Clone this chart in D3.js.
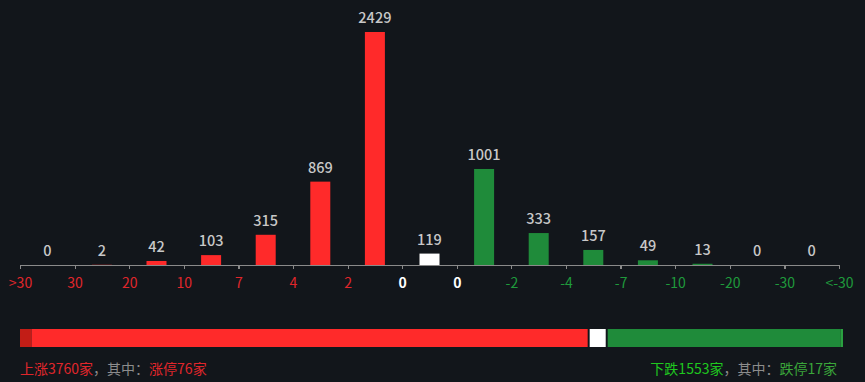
<!DOCTYPE html>
<html lang="zh">
<head>
<meta charset="UTF-8" />
<script src="https://d3js.org/d3.v7.min.js"></script>
<style>
    html, body { margin: 0; padding: 0; background: #12161b; }
    svg { display: block; font-family: "Noto Sans CJK SC", "Noto Sans", sans-serif; }
    .axis path, .axis line { stroke: #8a8a8a; stroke-width: 1.2; shape-rendering: crispEdges; }
</style>
</head>
<body>
<script>
    var counts = [0, 2, 42, 103, 315, 869, 2429, 119, 1001, 333, 157, 49, 13, 0, 0];
    var barKind = ["up", "up", "up", "up", "up", "up", "up", "flat", "down", "down", "down", "down", "down", "down", "down"];
    var tickLabels = [">30", "30", "20", "10", "7", "4", "2", "0", "0", "-2", "-4", "-7", "-10", "-20", "-30", "<-30"];
    var upTotal = 3760, limitUp = 76, flatTotal = 119, downTotal = 1553, limitDown = 17;

    var w = 865, h = 382;
    var padding = { left: 20, right: 26, top: 32, axisY: 265 };
    var colors = { up: "#ff2a2a", flat: "#ffffff", down: "#1f8b3a", limitUp: "#c21d16", limitDown: "#2aa040" };
    var tickColor = function (i) { return i < 7 ? "#e0262b" : (i < 9 ? "#ffffff" : "#1f9a3c"); };

    var svg = d3.select("body").append("svg").attr("width", w).attr("height", h);

    var xScale = d3.scaleLinear().domain([0, counts.length]).range([padding.left, w - padding.right]);
    var yScale = d3.scaleLinear().domain([0, d3.max(counts)]).range([padding.axisY, padding.top]);
    var barW = 20;

    svg.selectAll("rect.bar").data(counts).enter().append("rect")
        .attr("class", "bar")
        .attr("x", function (d, i) { return xScale(i + 0.5) - barW / 2; })
        .attr("y", function (d) { return yScale(d); })
        .attr("width", barW)
        .attr("height", function (d) { return padding.axisY - yScale(d); })
        .attr("fill", function (d, i) { return colors[barKind[i]]; });

    svg.selectAll("text.val").data(counts).enter().append("text")
        .attr("class", "val")
        .attr("x", function (d, i) { return xScale(i + 0.5); })
        .attr("y", function (d) { return yScale(d) - 9; })
        .attr("text-anchor", "middle")
        .attr("fill", "#c8c8c8")
        .attr("font-size", 14.5)
        .attr("font-weight", 500)
        .text(function (d) { return d; });

    var axis = d3.axisBottom(xScale)
        .tickValues(d3.range(tickLabels.length))
        .tickSize(4)
        .tickFormat(function (d) { return tickLabels[d]; });

    var gAxis = svg.append("g").attr("class", "axis")
        .attr("transform", "translate(0," + padding.axisY + ")")
        .call(axis);
    gAxis.select(".domain").attr("d", "M" + xScale(0) + ",0.5H" + xScale(counts.length));
    gAxis.selectAll(".tick text")
        .attr("y", 13)
        .attr("font-size", 14)
        .attr("font-family", "'Noto Sans CJK SC', sans-serif")
        .attr("fill", function (d) { return tickColor(d); })
        .attr("font-weight", function (d) { return (d === 7 || d === 8) ? "bold" : "normal"; });

    // composition bar
    var total = upTotal + flatTotal + downTotal;
    var cScale = d3.scaleLinear().domain([0, total]).range([20, 843]);
    var gap = 2, barY = 329, barH = 18;
    var segs = [
        { from: 0, to: limitUp, c: colors.limitUp, g1: 0 },
        { from: limitUp, to: upTotal, c: colors.up, g1: gap },
        { from: upTotal, to: upTotal + flatTotal, c: colors.flat, g1: gap },
        { from: upTotal + flatTotal, to: total - limitDown, c: colors.down, g1: 0 },
        { from: total - limitDown, to: total, c: colors.limitDown, g1: 0 }
    ];
    svg.selectAll("rect.seg").data(segs).enter().append("rect")
        .attr("class", "seg")
        .attr("x", function (d) { return cScale(d.from); })
        .attr("y", barY)
        .attr("width", function (d) { return cScale(d.to) - cScale(d.from) - d.g1; })
        .attr("height", barH)
        .attr("fill", function (d) { return d.c; });

    var left = svg.append("text").attr("x", 20).attr("y", 374).attr("font-size", 14);
    left.append("tspan").attr("fill", "#e0262b").text("上涨" + upTotal + "家");
    left.append("tspan").attr("fill", "#8c8c8c").text("，其中：");
    left.append("tspan").attr("fill", "#e0262b").text("涨停" + limitUp + "家");

    var right = svg.append("text").attr("x", 837).attr("y", 374).attr("font-size", 14).attr("text-anchor", "end");
    right.append("tspan").attr("fill", "#1fc81f").text("下跌" + downTotal + "家");
    right.append("tspan").attr("fill", "#8c8c8c").text("，其中：");
    right.append("tspan").attr("fill", "#3aa63a").text("跌停" + limitDown + "家");
</script>
</body>
</html>
